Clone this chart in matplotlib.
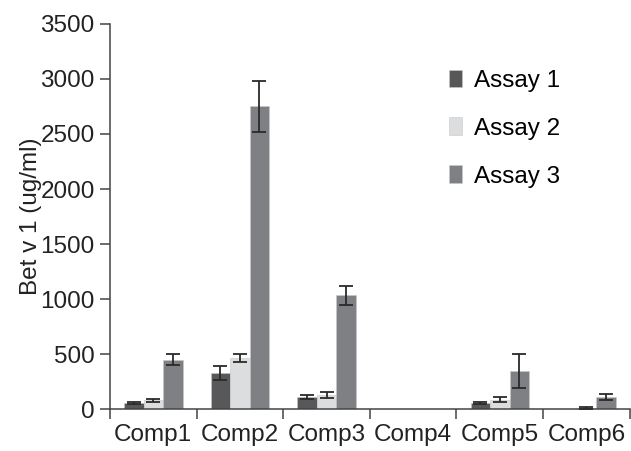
import matplotlib
matplotlib.use('Agg')
import matplotlib.pyplot as plt
import numpy as np

plt.rcParams['font.family'] = ['Liberation Sans', 'DejaVu Sans']

comps = ['Comp1', 'Comp2', 'Comp3', 'Comp4', 'Comp5', 'Comp6']
assays = ['Assay 1', 'Assay 2', 'Assay 3']

assay1 = [55, 330, 110, 0, 55, 0]
assay1_err = [12, 65, 20, 0, 10, 0]
assay2 = [80, 465, 130, 0, 85, 10]
assay2_err = [15, 35, 28, 0, 22, 12]
assay3 = [450, 2750, 1035, 0, 345, 110]
assay3_err = [50, 235, 85, 0, 155, 25]

colors = ['#58585b', '#dcddde', '#7f8084']

fig = plt.figure(figsize=(6.31, 4.51), dpi=100)
ax = fig.add_axes([0.1743, 0.0931, 0.8237, 0.8537])

x = np.arange(len(comps)) + 0.5
w = 0.225
series = [(assay1, assay1_err), (assay2, assay2_err), (assay3, assay3_err)]
for i, (vals, errs) in enumerate(series):
    pos = x + (i - 1) * w
    ax.bar(pos, vals, width=w, color=colors[i], edgecolor='#c8c8c8',
           linewidth=0.4, label=assays[i], zorder=2)
    vals = np.array(vals, dtype=float)
    errs = np.array(errs, dtype=float)
    m = errs > 0
    ax.errorbar(pos[m], vals[m], yerr=errs[m], fmt='none', ecolor='#2a2a2a',
                elinewidth=1.3, capsize=5, capthick=1.3, zorder=3)

ax.set_xlim(0, len(comps))
ax.set_ylim(0, 3500)
ax.set_yticks(np.arange(0, 3501, 500))
ax.set_xticks(np.arange(0, len(comps) + 1))
ax.set_xticklabels([])
ax.set_xticks(x, minor=True)
ax.set_xticklabels(comps, minor=True)
ax.tick_params(axis='x', which='minor', length=0, pad=11, labelsize=17.5, labelcolor='#222222')
ax.tick_params(axis='x', which='major', length=7, width=1.1, color='#444444')
ax.tick_params(axis='y', length=7, width=1.1, color='#444444', labelsize=17.5,
               labelcolor='#222222', pad=4)

for s in ['top', 'right']:
    ax.spines[s].set_visible(False)
for s in ['left', 'bottom']:
    ax.spines[s].set_color('#444444')
    ax.spines[s].set_linewidth(1.1)

ax.set_ylabel('Bet v 1 (ug/ml)', fontsize=17.5, color='#222222', labelpad=-1)

leg = ax.legend(loc='upper left', bbox_to_anchor=(0.629, 0.913), frameon=False,
                borderpad=0, fontsize=17.5, handlelength=0.53, handleheight=0.74,
                labelspacing=1.05, handletextpad=0.5)

fig.savefig('out.png', dpi=100)
